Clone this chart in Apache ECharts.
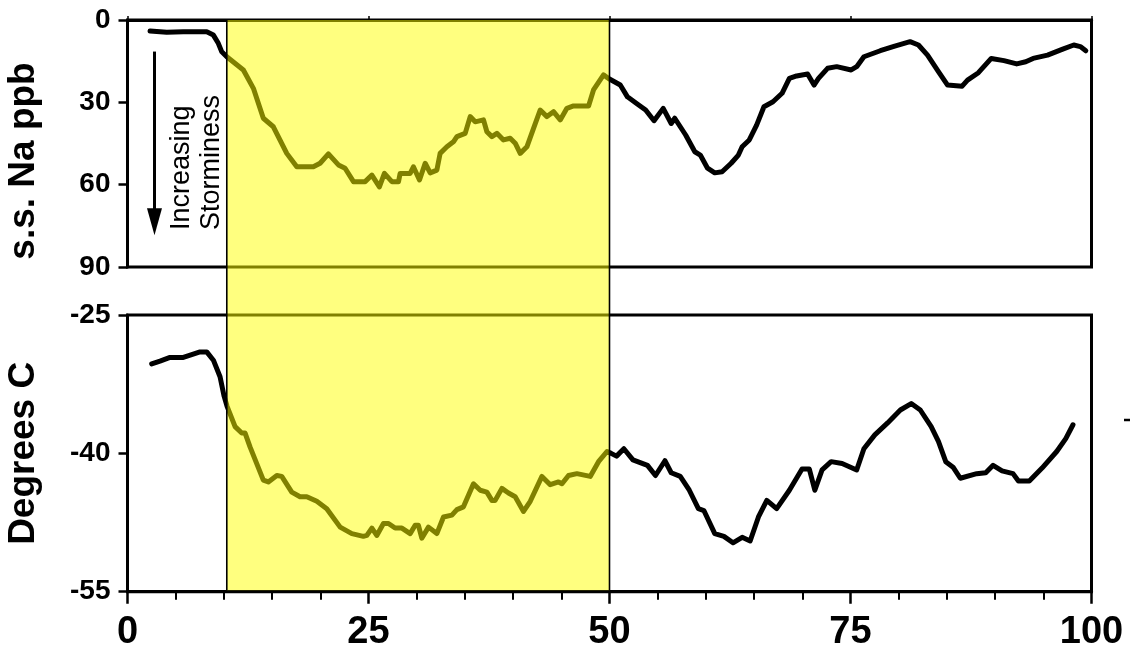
<!DOCTYPE html>
<html><head><meta charset="utf-8">
<script src="https://cdn.jsdelivr.net/npm/echarts@6.0.0/dist/echarts.min.js"></script>
<style>html,body{margin:0;padding:0;background:#fff}#c{width:1130px;height:647px}</style>
</head><body><div id="c"></div>
<script>
// ---- data ----
const naX = [2.34,4.07,5.79,8.22,8.91,9.42,9.78,10.30,12.02,13.06,14.09,15.13,16.52,17.56,19.28,19.98,20.84,21.88,22.57,23.44,24.65,25.35,26.13,26.65,27.42,28.11,28.28,29.32,29.66,30.29,30.88,31.40,32.09,32.43,33.13,33.81,34.17,35.03,35.55,36.07,36.93,37.28,37.80,38.32,39.00,39.70,40.22,40.74,41.43,42.12,42.81,43.51,44.19,44.89,45.58,46.27,47.83,48.34,49.38,49.90,51.12,51.86,52.81,53.75,54.62,55.57,56.40,56.77,57.90,58.85,59.42,60.17,60.92,61.68,62.62,63.37,63.76,64.50,65.26,66.02,66.96,67.90,68.66,69.41,70.55,71.22,71.68,72.62,73.57,75.07,75.64,76.39,78.09,79.59,81.18,82.05,82.99,84.12,85.07,86.58,87.14,88.27,89.60,90.92,92.24,93.18,93.94,95.44,96.95,98.16,98.84,99.41];
const naY = [4.0,4.5,4.3,4.3,5.5,8.5,11.6,13.4,18.2,24.9,35.8,38.9,48.6,53.5,53.5,52.2,48.8,52.8,54.0,58.9,58.9,56.5,60.8,55.9,58.9,58.9,55.9,55.9,53.5,58.3,52.2,55.7,54.7,48.6,46.2,44.4,42.5,41.3,35.2,37.1,36.4,40.7,42.5,41.3,43.7,43.1,44.9,48.6,46.2,39.5,32.8,35.2,33.4,36.4,32.2,31.3,31.3,25.5,20.0,21.3,23.7,28.0,30.4,32.8,36.7,32.2,37.7,35.8,41.9,48.0,49.2,54.0,55.7,55.3,52.2,49.2,46.2,43.7,38.3,31.6,29.8,26.7,21.3,20.4,19.7,23.7,21.3,17.6,17.0,18.2,17.0,13.4,11.2,9.5,7.9,9.1,12.8,18.8,23.7,24.1,21.9,19.2,14.0,14.8,16.0,15.2,14.0,12.8,10.7,9.1,9.7,11.2];
const tX = [2.51,3.37,4.41,5.79,6.66,7.52,8.22,8.91,9.60,10.02,10.33,11.16,11.85,12.20,12.71,14.09,14.61,15.49,16.00,17.04,17.90,18.60,19.64,20.67,22.06,23.27,24.47,24.83,25.35,25.86,26.55,27.07,27.76,28.46,29.32,29.84,30.18,30.53,31.22,32.09,32.78,33.65,34.17,34.85,35.89,36.59,37.28,37.80,38.14,38.84,39.52,40.22,41.08,41.78,42.99,43.85,44.71,45.07,45.75,46.62,48.00,48.86,49.74,50.17,50.73,51.49,52.43,53.94,54.77,55.75,56.40,57.34,58.28,59.22,59.79,60.92,61.87,62.81,63.76,64.59,65.45,66.32,67.34,68.66,69.97,70.73,71.30,72.05,72.99,74.13,75.64,76.39,77.52,78.85,80.17,81.30,82.24,83.37,84.12,84.88,85.64,86.39,88.09,89.03,89.79,90.72,91.86,92.42,93.55,94.87,96.39,97.33,98.08];
const tY = [-30.3,-30.0,-29.6,-29.6,-29.3,-29.0,-29.0,-29.9,-31.7,-33.8,-34.9,-37.1,-37.8,-37.8,-39.3,-42.9,-43.1,-42.4,-42.5,-44.2,-44.7,-44.7,-45.2,-46.0,-48.0,-48.7,-49.0,-48.9,-48.1,-48.9,-47.6,-47.6,-48.1,-48.1,-48.7,-47.8,-47.8,-49.2,-48.0,-48.7,-46.9,-46.7,-46.1,-45.8,-43.3,-44.0,-44.2,-45.1,-45.1,-43.8,-44.3,-44.7,-46.3,-45.2,-42.5,-43.4,-43.1,-43.3,-42.4,-42.2,-42.5,-40.9,-39.8,-40.0,-40.3,-39.5,-40.7,-41.3,-42.4,-40.8,-42.1,-42.5,-44.0,-46.0,-46.2,-48.7,-49.0,-49.7,-49.1,-49.5,-46.9,-45.1,-46.0,-44.0,-41.7,-41.7,-44.0,-41.8,-40.9,-41.1,-41.8,-39.5,-38.0,-36.7,-35.3,-34.6,-35.3,-37.1,-38.7,-40.9,-41.5,-42.7,-42.2,-42.1,-41.3,-41.9,-42.2,-43.0,-43.0,-41.6,-39.8,-38.4,-36.9];
const xTickLabels = [0, 25, 50, 75, 100];
const naTickLabels = [0, 30, 60, 90];
const tTickLabels = [-55, -40, -25];
const bandRange = [10.3, 50];
const naName = 's.s. Na ppb';
const tName = 'Degrees C';
const noteLines = ['Increasing', 'Storminess'];

const FONT = 'Liberation Sans, Arial, sans-serif';
const chart = echarts.init(document.getElementById('c'), null, {renderer: 'canvas'});
const zip = (a, b) => a.map((v, i) => [v, b[i]]);
const frameLine = {show: true, lineStyle: {color: '#000', width: 3}};

const option = {
  animation: false,
  backgroundColor: '#fff',
  grid: [
    {left: 127.5, right: 38.5, top: 20, height: 247, show: true, borderColor: '#000', borderWidth: 3,
     backgroundColor: 'transparent', containLabel: false, outerBoundsMode: 'none'},
    {left: 127.5, right: 38.5, top: 315, height: 276.7, show: true, borderColor: '#000', borderWidth: 3,
     backgroundColor: 'transparent', containLabel: false, outerBoundsMode: 'none'}
  ],
  xAxis: [
    {gridIndex: 0, type: 'value', min: 0, max: 100, interval: 25, position: 'bottom',
     axisLine: frameLine, axisTick: {show: false}, axisLabel: {show: false}, splitLine: {show: false}},
    {gridIndex: 0, type: 'value', min: 0, max: 100, interval: 25, position: 'top',
     axisLine: frameLine, axisTick: {show: true, length: 4, lineStyle: {color: '#000', width: 1.5}},
     axisLabel: {show: false}, splitLine: {show: false}},
    {gridIndex: 1, type: 'value', min: 0, max: 100, interval: 25, position: 'bottom',
     axisLine: frameLine,
     axisTick: {show: true, length: 12, lineStyle: {color: '#000', width: 2.5}},
     minorTick: {show: true, splitNumber: 5, length: 8, lineStyle: {color: '#000', width: 2}},
     axisLabel: {show: true, margin: 22, color: '#000', fontSize: 38, fontWeight: 'bold', fontFamily: FONT,
       formatter: v => xTickLabels.includes(v) ? String(v) : ''},
     splitLine: {show: false}, minorSplitLine: {show: false}}
  ],
  yAxis: [
    {gridIndex: 0, type: 'value', inverse: true, min: 0, max: 90, interval: 30,
     name: naName, nameLocation: 'middle', nameRotate: 90, nameGap: 85,
     nameTextStyle: {color: '#000', fontSize: 37, fontWeight: 'bold', fontFamily: FONT, padding: [0, 35, 0, 0]},
     axisLine: frameLine, axisTick: {show: true, length: 9, lineStyle: {color: '#000', width: 2.5}},
     axisLabel: {show: true, margin: 17, color: '#000', fontSize: 28, fontWeight: 'bold', fontFamily: FONT,
       formatter: v => naTickLabels.includes(v) ? String(v) : ''},
     splitLine: {show: false}},
    {gridIndex: 1, type: 'value', min: -55, max: -25, interval: 15,
     name: tName, nameLocation: 'middle', nameRotate: 90, nameGap: 85,
     nameTextStyle: {color: '#000', fontSize: 37, fontWeight: 'bold', fontFamily: FONT},
     axisLine: frameLine, axisTick: {show: true, length: 9, lineStyle: {color: '#000', width: 2.5}},
     axisLabel: {show: true, margin: 17, color: '#000', fontSize: 28, fontWeight: 'bold', fontFamily: FONT,
       formatter: v => tTickLabels.includes(v) ? String(v) : ''},
     splitLine: {show: false}}
  ],
  series: [
    {type: 'line', xAxisIndex: 0, yAxisIndex: 0, data: zip(naX, naY), showSymbol: false, symbol: 'none',
     lineStyle: {color: '#000', width: 5, cap: 'round', join: 'round'}, z: 3},
    {type: 'line', xAxisIndex: 2, yAxisIndex: 1, data: zip(tX, tY), showSymbol: false, symbol: 'none',
     lineStyle: {color: '#000', width: 5, cap: 'round', join: 'round'}, z: 3}
  ]
};
chart.setOption(option);

// Overlay band + annotation, positioned through the chart's own scales
const pTopL = chart.convertToPixel({gridIndex: 0}, [bandRange[0], 0]);
const pTopR = chart.convertToPixel({gridIndex: 0}, [bandRange[1], 0]);
const pBot = chart.convertToPixel({gridIndex: 1}, [bandRange[0], -55]);
const bx0 = pTopL[0], bx1 = pTopR[0], by0 = pTopL[1], by1 = pBot[1] - 1.5;

const aTop = chart.convertToPixel({gridIndex: 0}, [2.8, 11.5]);
const aBot = chart.convertToPixel({gridIndex: 0}, [2.8, 78.4]);
const ax = aTop[0];

chart.setOption({
  graphic: [
    {type: 'rect', z: 100, silent: true, shape: {x: bx0, y: by0, width: bx1 - bx0, height: by1 - by0},
     style: {fill: 'rgba(255,255,0,0.5)'}},
    {type: 'line', z: 101, silent: true, shape: {x1: bx0, y1: by0, x2: bx0, y2: by1}, style: {stroke: '#000', lineWidth: 1.6}},
    {type: 'line', z: 101, silent: true, shape: {x1: bx1, y1: by0, x2: bx1, y2: by1}, style: {stroke: '#000', lineWidth: 1.6}},
    {type: 'line', z: 50, silent: true, shape: {x1: ax, y1: aTop[1], x2: ax, y2: aBot[1] - 20}, style: {stroke: '#000', lineWidth: 3}},
    {type: 'polygon', z: 50, silent: true, shape: {points: [[ax - 7.5, aBot[1] - 27], [ax + 7.5, aBot[1] - 27], [ax, aBot[1]]]}, style: {fill: '#000'}},
    {type: 'text', z: 50, silent: true, x: 182, y: 230, rotation: Math.PI / 2,
     style: {text: noteLines[0], fill: '#000', font: '27px ' + FONT, align: 'left', verticalAlign: 'middle'}},
    {type: 'text', z: 50, silent: true, x: 212, y: 230, rotation: Math.PI / 2,
     style: {text: noteLines[1], fill: '#000', font: '27px ' + FONT, align: 'left', verticalAlign: 'middle'}},
    {type: 'line', z: 50, silent: true, shape: {x1: 1124, y1: 420, x2: 1130, y2: 420}, style: {stroke: '#000', lineWidth: 2.5}}
  ]
});
</script>
</body></html>
